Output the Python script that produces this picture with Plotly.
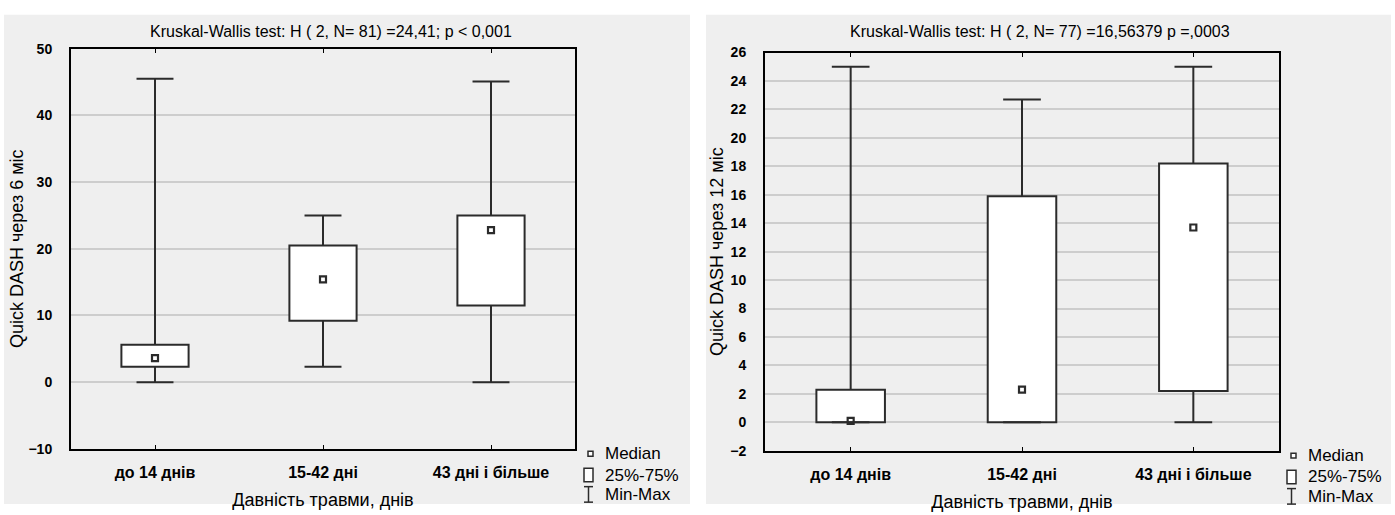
import plotly.graph_objects as go

categories = ["до 14 днів", "15-42 дні", "43 дні і більше"]

# Left panel: Quick DASH через 6 міс
l_min = [0.0, 2.3, 0.0]
l_q1 = [2.3, 9.2, 11.5]
l_med = [3.6, 15.4, 22.8]
l_q3 = [5.6, 20.5, 25.0]
l_max = [45.5, 25.0, 45.1]

# Right panel: Quick DASH через 12 міс
r_min = [0.0, 0.0, 0.0]
r_q1 = [0.0, 0.0, 2.2]
r_med = [0.1, 2.3, 13.7]
r_q3 = [2.3, 15.9, 18.2]
r_max = [25.0, 22.7, 25.0]

left_title = "Kruskal-Wallis test: H ( 2, N= 81) =24,41; p < 0,001"
right_title = "Kruskal-Wallis test: H ( 2, N= 77) =16,56379 p =,0003"
left_ytitle = "Quick DASH через 6 міс"
right_ytitle = "Quick DASH через 12 міс"
xtitle = "Давність травми, днів"
legend_labels = ["Median", "25%-75%", "Min-Max"]

W, H = 1395, 515
BOXW = 0.4
CAP = 0.11
LC = "#2b2b2b"
FONT = "Liberation Sans, Arial, sans-serif"

fig = go.Figure()


def add_panel(xa, ya, mins, q1, med, q3, mx):
    xs = list(range(len(categories)))
    fig.add_trace(go.Bar(
        x=xs, y=[b - a for a, b in zip(q1, q3)], base=q1, width=BOXW,
        marker=dict(color="white", line=dict(color=LC, width=2)),
        xaxis=xa, yaxis=ya, showlegend=False, hoverinfo="skip"))
    wx, wy = [], []
    for i, x in enumerate(xs):
        wx += [x, x, None, x, x, None, x - CAP, x + CAP, None, x - CAP, x + CAP, None]
        wy += [q3[i], mx[i], None, q1[i], mins[i], None, mx[i], mx[i], None, mins[i], mins[i], None]
    fig.add_trace(go.Scatter(x=wx, y=wy, mode="lines", line=dict(color=LC, width=2),
                             xaxis=xa, yaxis=ya, showlegend=False, hoverinfo="skip"))
    fig.add_trace(go.Scatter(x=xs, y=med, mode="markers",
                             marker=dict(symbol="square-open", size=6, color=LC, line=dict(width=2.2)),
                             xaxis=xa, yaxis=ya, showlegend=False, hoverinfo="skip"))


add_panel("x", "y", l_min, l_q1, l_med, l_q3, l_max)
add_panel("x2", "y2", r_min, r_q1, r_med, r_q3, r_max)


def px_x(p):
    return p / W


def px_y(p):
    return 1 - p / H


xcommon = dict(range=[-0.5, 2.5], tickvals=[0, 1, 2], ticktext=categories,
               showline=True, linecolor="black", linewidth=2, mirror="ticks",
               ticks="inside", ticklen=4, tickcolor="black", showgrid=False, zeroline=False,
               ticklabelstandoff=8,
               tickfont=dict(family=FONT, size=16, color="black", weight="bold"),
               title=dict(text=xtitle, font=dict(family=FONT, size=18, color="black"), standoff=13))
ycommon = dict(showline=True, linecolor="black", linewidth=2, mirror=True,
               ticks="", showgrid=True, gridcolor="#cdcdcd", gridwidth=1.5, zeroline=False,
               ticklabelstandoff=14,
               tickfont=dict(family=FONT, size=14, color="black", weight="bold"))

fig.update_layout(
    width=W, height=H, margin=dict(l=0, r=0, t=0, b=0),
    paper_bgcolor="white", plot_bgcolor="white", showlegend=False, barmode="overlay",
    xaxis=dict(domain=[px_x(71), px_x(575)], anchor="y", **xcommon),
    yaxis=dict(domain=[px_y(455), px_y(42)], anchor="x", range=[-10, 50], dtick=10,
               title=dict(text=left_ytitle, font=dict(family=FONT, size=18, color="black"), standoff=0),
               **ycommon),
    xaxis2=dict(domain=[px_x(765), px_x(1279)], anchor="y2", **xcommon),
    yaxis2=dict(domain=[px_y(457), px_y(46)], anchor="x2", range=[-2, 26], dtick=2,
                title=dict(text=right_ytitle, font=dict(family=FONT, size=18, color="black"), standoff=2),
                **ycommon),
)

shapes = [
    dict(type="rect", xref="paper", yref="paper", x0=px_x(4), x1=px_x(690), y0=px_y(512), y1=px_y(7),
         fillcolor="#efefef", line=dict(width=0), layer="below"),
    dict(type="rect", xref="paper", yref="paper", x0=px_x(706), x1=px_x(1391), y0=px_y(512), y1=px_y(7),
         fillcolor="#efefef", line=dict(width=0), layer="below"),
]
annotations = [
    dict(text=left_title, xref="paper", yref="paper", x=px_x(331), y=px_y(24), showarrow=False,
         font=dict(family=FONT, size=16, color="black"), xanchor="center", yanchor="middle"),
    dict(text=right_title, xref="paper", yref="paper", x=px_x(1040), y=px_y(24), showarrow=False,
         font=dict(family=FONT, size=16, color="black"), xanchor="center", yanchor="middle"),
]


def add_legend(x0, ys, text_x):
    # ys: centre y of the three legend rows
    y_med, y_box, y_mm = ys
    shapes.append(dict(type="rect", xref="paper", yref="paper",
                       x0=px_x(x0 + 4), x1=px_x(x0 + 9), y0=px_y(y_med + 2.5), y1=px_y(y_med - 2.5),
                       line=dict(color=LC, width=1.5), fillcolor="white"))
    shapes.append(dict(type="rect", xref="paper", yref="paper",
                       x0=px_x(x0), x1=px_x(x0 + 9), y0=px_y(y_box + 7), y1=px_y(y_box - 7),
                       line=dict(color=LC, width=1.5), fillcolor="white"))
    for s in [dict(x0=x0, x1=x0 + 9, y0=y_mm - 8, y1=y_mm - 8),
              dict(x0=x0, x1=x0 + 9, y0=y_mm + 8, y1=y_mm + 8),
              dict(x0=x0 + 4.5, x1=x0 + 4.5, y0=y_mm - 8, y1=y_mm + 8)]:
        shapes.append(dict(type="line", xref="paper", yref="paper",
                           x0=px_x(s["x0"]), x1=px_x(s["x1"]), y0=px_y(s["y0"]), y1=px_y(s["y1"]),
                           line=dict(color=LC, width=1.5)))
    for lab, y in zip(legend_labels, ys):
        annotations.append(dict(text=lab, xref="paper", yref="paper", x=px_x(text_x),
                                y=px_y(y), showarrow=False, xanchor="left",
                                yanchor="middle", font=dict(family=FONT, size=17, color="black")))


add_legend(584, (460, 482, 502), 603)
add_legend(1287, (462, 484, 504), 1306)

fig.update_layout(shapes=shapes, annotations=annotations)
fig.write_html("out.html", config={"displayModeBar": False},
               post_script="document.body.style.margin='0';document.body.style.overflow='hidden';")
